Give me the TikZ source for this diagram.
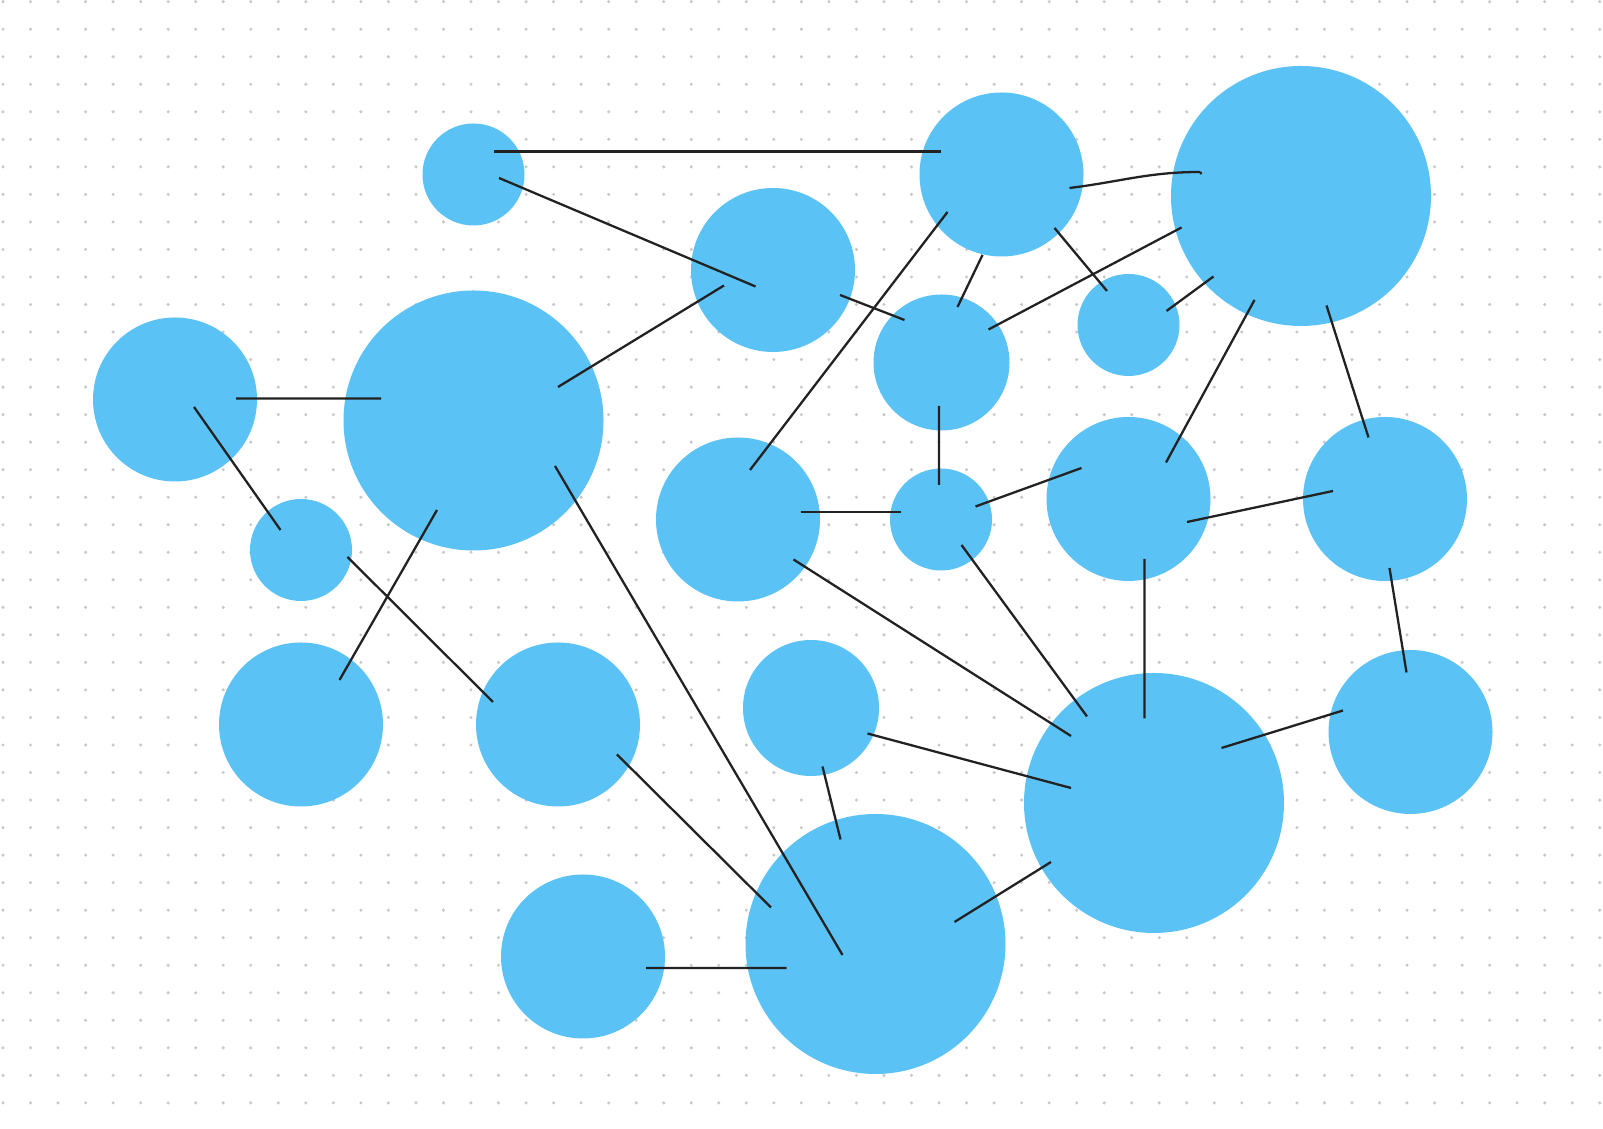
\documentclass[tikz,border=0pt]{standalone}
\usepackage{tikz}
\definecolor{bubble}{RGB}{91,194,245}
\definecolor{dotgray}{RGB}{200,200,200}
\definecolor{wire}{RGB}{34,34,34}
\begin{document}
\begin{tikzpicture}[draw=wire,line width=1.3pt]
	\def \gridx{0.06}
	\def \gridy{22.546}
	\def \gridstep{0.5506}
	\tikzstyle{xs-node}=[circle,fill=bubble,draw=none,inner sep=0pt,minimum size=2.04cm]
	\tikzstyle{s-node}=[circle,fill=bubble,draw=none,inner sep=0pt,minimum size=2.72cm]
	\tikzstyle{m-node}=[circle,fill=bubble,draw=none,inner sep=0pt,minimum size=3.28cm]
	\tikzstyle{l-node}=[circle,fill=bubble,draw=none,inner sep=0pt,minimum size=5.2cm]
	\useasboundingbox (0,0) rectangle (32.06,22.58);
	% dotted background
	\foreach \i in {0,...,58}
		\foreach \j in {0,...,40}
			\fill[dotgray] (\gridx+\i*\gridstep,\gridy-\j*\gridstep) circle (0.034);
	
	% small bubbles
	\node[xs-node] 	(x0)	at (9.47,19.09)		{};
	\node[xs-node] 	(x1)	at (6.02,11.58)		{};
	\node[xs-node] 	(x2)	at (22.57,16.08)	{};
	\node[xs-node] 	(x3)	at (18.82,12.19)	{};
	\node[s-node] 	(s0)	at (18.83,15.33)	{};
	\node[s-node] 	(s1)	at (16.22,8.42)		{};
	
	% medium bubbles
	\node[m-node] 	(m0)	at (3.50,14.59)		{};
	\node[m-node] 	(m1)	at (6.02,8.09)		{};
	\node[m-node] 	(m2)	at (11.16,8.09)		{};
	\node[m-node] 	(m3)	at (15.46,17.18)	{};
	\node[m-node] 	(m4)	at (14.76,12.19)	{};
	\node[m-node] 	(m5)	at (20.03,19.09)	{};
	\node[m-node] 	(m6)	at (22.57,12.60)	{};
	\node[m-node] 	(m7)	at (27.70,12.60)	{};
	\node[m-node] 	(m8)	at (28.21,7.94)		{};
	\node[m-node] 	(m9)	at (11.66,3.45)		{};
	
	% large bubbles
	\node[l-node] 	(l0)	at (9.47,14.17)		{};
	\node[l-node] 	(l1)	at (26.02,18.66)	{};
	\node[l-node] 	(l2)	at (23.08,6.52)		{};
	\node[l-node] 	(l3)	at (17.51,3.70)		{};
	
	\path
		([shift={(1.22,0.02)}]m0.center)	edge	([shift={(-1.85,0.44)}]l0.center)
		([shift={(0.38,-0.15)}]m0.center)	edge	([shift={(-0.41,0.40)}]x1.center)
		([shift={(0.41,0.46)}]x0.center)	edge	([shift={(-1.21,0.46)}]m5.center)
		([shift={(0.51,-0.07)}]x0.center)	edge	([shift={(-0.35,-0.33)}]m3.center)
		([shift={(1.69,0.67)}]l0.center)	edge	([shift={(-0.98,-0.31)}]m3.center)
		([shift={(-0.73,-1.79)}]l0.center)	edge	([shift={(0.77,0.89)}]m1.center)
		([shift={(1.63,-0.91)}]l0.center)	edge	([shift={(-0.66,-0.22)}]l3.center)
		([shift={(0.93,-0.14)}]x1.center)	edge	([shift={(-1.30,0.45)}]m2.center)
		([shift={(1.18,-0.60)}]m2.center)	edge	([shift={(-2.09,0.73)}]l3.center)
		([shift={(1.26,-0.23)}]m9.center)	edge	([shift={(-1.78,-0.48)}]l3.center)
		%
		([shift={(1.34,-0.50)}]m3.center)	edge	([shift={(-0.74,0.85)}]s0.center)
		([shift={(0.24,0.99)}]m4.center)	edge	([shift={(-1.08,-0.75)}]m5.center)
		([shift={(1.25,0.15)}]m4.center)	edge	([shift={(-0.80,0.15)}]x3.center)
		([shift={(1.11,-0.80)}]m4.center)	edge	([shift={(-1.66,1.34)}]l2.center)
		([shift={(-0.38,-1.61)}]m5.center)	edge	([shift={(0.32,1.11)}]s0.center)
		([shift={(1.36,-0.27)}]m5.center)	edge[out=7,in=180]	([shift={(-2.02,0.48)}]l1.center)
		([shift={(-2.02,0.48)}]l1.center)	edge	([shift={(-1.99,0.44)}]l1.center)
		([shift={(1.06,-1.07)}]m5.center)	edge	([shift={(-0.43,0.68)}]x2.center)
		([shift={(0.94,0.66)}]s0.center)	edge	([shift={(-2.39,-0.63)}]l1.center)
		([shift={(0.76,0.28)}]x2.center)	edge	([shift={(-1.75,-1.61)}]l1.center)
		([shift={(-0.05,-0.87)}]s0.center)	edge	([shift={(-0.04,0.69)}]x3.center)
		%
		([shift={(0.69,0.26)}]x3.center)	edge	([shift={(-0.94,0.62)}]m6.center)
		([shift={(0.41,-0.51)}]x3.center)	edge	([shift={(-1.34,1.73)}]l2.center)
		([shift={(0.75,0.73)}]m6.center)	edge	([shift={(-0.93,-2.08)}]l1.center)
		([shift={(1.17,-0.46)}]m6.center)	edge	([shift={(-1.04,0.16)}]m7.center)
		([shift={(0.32,-1.20)}]m6.center)	edge	([shift={(-0.19,1.69)}]l2.center)
		([shift={(0.51,-2.19)}]l1.center)	edge	([shift={(-0.33,1.23)}]m7.center)
		([shift={(0.09,-1.38)}]m7.center)	edge	([shift={(-0.08,1.19)}]m8.center)
		([shift={(1.35,1.10)}]l2.center)	edge	([shift={(-1.35,0.43)}]m8.center)
		%
		([shift={(1.13,-0.51)}]s1.center)	edge	([shift={(-1.66,0.30)}]l2.center)
		([shift={(0.23,-1.17)}]s1.center)	edge	([shift={(-0.70,2.09)}]l3.center)
		([shift={(1.58,0.44)}]l3.center)	edge	([shift={(-2.06,-1.18)}]l2.center);
	\end{tikzpicture}
\end{document}
